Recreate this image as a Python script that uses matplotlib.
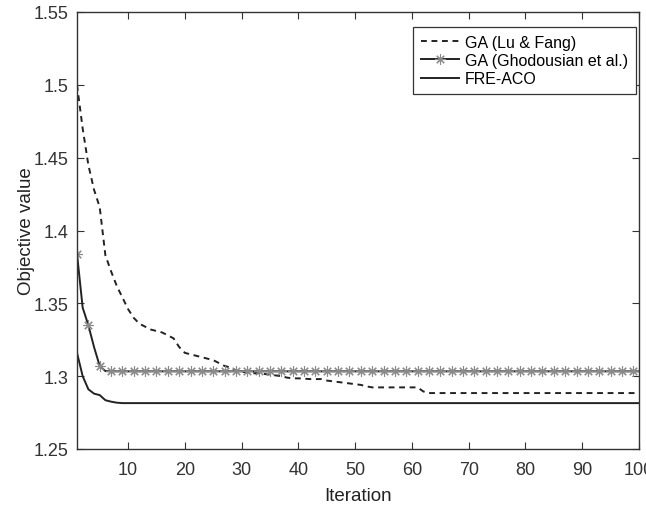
import numpy as np
import matplotlib.pyplot as plt

plt.rcParams['font.family'] = ['Liberation Sans', 'DejaVu Sans']

iterations = list(range(1, 101))

# GA (Lu & Fang), one value per iteration
ga_lu_fang = [1.500, 1.470, 1.445, 1.428, 1.416, 1.383, 1.372, 1.362, 1.354, 1.346,
              1.340, 1.336, 1.334, 1.332, 1.331, 1.330, 1.328, 1.326, 1.320, 1.316,
              1.315, 1.314, 1.313, 1.312, 1.311, 1.309, 1.307, 1.306, 1.304, 1.303,
              1.3025, 1.302, 1.302, 1.3015, 1.301, 1.3005, 1.300, 1.299, 1.2985, 1.2985,
              1.2983, 1.298, 1.298, 1.298, 1.297, 1.2965, 1.296, 1.2955, 1.295, 1.2945,
              1.294, 1.293, 1.2923, 1.2923, 1.2923, 1.2923, 1.2923, 1.2923, 1.2923, 1.2923,
              1.2923, 1.2895] + [1.2884] * 38

# GA (Ghodousian et al.)
ga_ghodousian = [1.384, 1.347, 1.335, 1.320, 1.307, 1.3035] + [1.3033] * 94

# FRE-ACO
fre_aco = [1.316, 1.300, 1.291, 1.288, 1.287, 1.2835, 1.2825, 1.2818] + [1.2815] * 92

fig = plt.figure(figsize=(6.46, 5.06), dpi=100)
ax = fig.add_axes([77 / 646, 1 - 450 / 506, 562 / 646, 437 / 506])

ax.plot(iterations, ga_lu_fang, color='#222222', lw=1.4, dashes=(3.0, 2.4),
        label='GA (Lu & Fang)')
ax.plot(iterations, ga_ghodousian, color='#222222', lw=1.4,
        marker=(8, 2, 0), markevery=2, markersize=7.5, markeredgewidth=0.8,
        markeredgecolor='#8a8a8a', label='GA (Ghodousian et al.)')
ax.plot(iterations, fre_aco, color='#222222', lw=1.4, label='FRE-ACO')

ax.set_xlim(1, 100)
ax.set_ylim(1.25, 1.55)
ax.set_xticks(range(10, 101, 10))
ax.set_yticks([1.25, 1.3, 1.35, 1.4, 1.45, 1.5, 1.55])
ax.set_yticklabels(['1.25', '1.3', '1.35', '1.4', '1.45', '1.5', '1.55'])
ax.tick_params(direction='in', top=True, right=True, length=5, width=0.8,
               labelsize=13, colors='#333333', pad=6)
ax.tick_params(axis='x', pad=9)
for s in ax.spines.values():
    s.set_color('#333333')
    s.set_linewidth(1.0)

ax.set_xlabel('Iteration', fontsize=13.5, color='#222222', labelpad=6)
ax.set_ylabel('Objective value', fontsize=13.5, color='#222222', labelpad=-1)

leg = ax.legend(loc='upper right', bbox_to_anchor=(0.995, 0.966), borderaxespad=0,
                fontsize=11.5, fancybox=False, edgecolor='#333333', framealpha=1,
                handlelength=2.4, handletextpad=0.35, borderpad=0.5, labelspacing=0.2)
leg.get_frame().set_linewidth(0.9)

fig.savefig('out.png', dpi=100)
